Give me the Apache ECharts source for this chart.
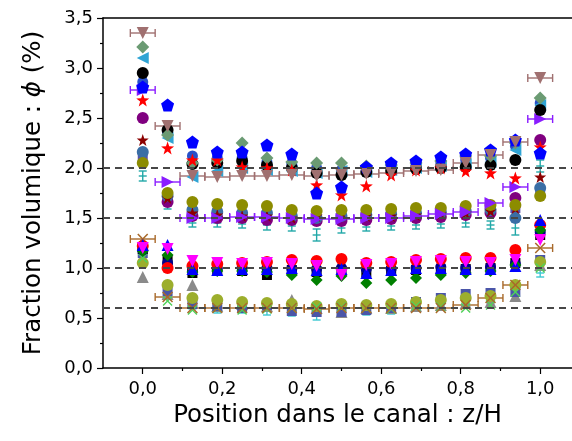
<!DOCTYPE html>
<html>
<head>
<meta charset="utf-8">
<script src="https://cdn.jsdelivr.net/npm/echarts@6/dist/echarts.min.js"></script>
<style>
  html, body { margin: 0; padding: 0; background: #fff; }
  #chart { width: 572px; height: 441px; }
</style>
</head>
<body>
<div id="chart"></div>
<script>
// positions dans le canal (z/H), pas de 1/16
var xPos = [0, 0.0625, 0.125, 0.1875, 0.25, 0.3125, 0.375, 0.4375, 0.5, 0.5625, 0.625, 0.6875, 0.75, 0.8125, 0.875, 0.9375, 1.0];
var halfStep = 0.03125;
var refLevels = [2.0, 1.5, 1.0, 0.6];
var xTicks = [0, 0.2, 0.4, 0.6, 0.8, 1.0];
var xMinorTicks = [0.1, 0.3, 0.5, 0.7, 0.9];

// groupe 2,0 %
var brownTri   = [3.35, 2.42, 1.92, 1.91, 1.92, 1.92, 1.93, 1.92, 1.93, 1.94, 1.95, 1.97, 1.98, 2.05, 2.13, 2.26, 2.90];
var bluePent   = [2.81, 2.63, 2.26, 2.16, 2.16, 2.23, 2.14, 1.75, 1.81, 2.01, 2.05, 2.07, 2.11, 2.14, 2.18, 2.28, 2.15];
var blackCirc  = [2.95, 2.38, 2.04, 2.05, 2.07, 2.03, 2.00, 1.95, 1.93, 1.96, 1.97, 1.99, 2.00, 2.01, 2.03, 2.08, 2.58];
var sageDiam   = [3.21, 2.33, 2.05, 2.08, 2.25, 2.10, 2.06, 2.05, 2.05, 2.02, 2.03, 2.05, 2.07, 2.12, 2.12, 2.25, 2.70];
var skyTri     = [3.10, 2.30, 1.91, 1.97, 2.00, 1.98, 1.97, 1.95, 1.97, 1.96, 1.98, 2.00, 2.02, 2.04, 2.06, 2.18, 2.63];
var royalCirc  = [2.86, 2.35, 2.12, 2.10, 2.10, 2.06, 2.04, 2.00, 1.98, 2.00, 2.02, 2.03, 2.05, 2.08, 2.10, 2.22, 2.65];
var redStar    = [2.68, 2.20, 2.08, 2.08, 2.01, 2.00, 1.98, 1.83, 1.73, 1.82, 1.93, 1.98, 2.00, 1.97, 1.95, 1.90, 2.21];

// groupe 1,5 %
var violetTri  = [2.78, 1.86, 1.50, 1.50, 1.51, 1.51, 1.50, 1.49, 1.49, 1.50, 1.50, 1.52, 1.54, 1.56, 1.65, 1.81, 2.49];
var oliveCirc  = [2.05, 1.75, 1.66, 1.64, 1.63, 1.62, 1.58, 1.57, 1.58, 1.58, 1.59, 1.60, 1.60, 1.62, 1.63, 1.63, 1.72];
var steelCirc  = [2.16, 1.72, 1.58, 1.56, 1.55, 1.55, 1.52, 1.50, 1.52, 1.53, 1.54, 1.55, 1.56, 1.57, 1.58, 1.50, 1.80];
var indigoSq   = [2.12, 1.70, 1.56, 1.55, 1.53, 1.52, 1.50, 1.49, 1.50, 1.51, 1.52, 1.53, 1.55, 1.56, 1.58, 1.60, 1.76];
var purpleCirc = [2.50, 1.66, 1.52, 1.50, 1.50, 1.48, 1.48, 1.47, 1.47, 1.48, 1.49, 1.50, 1.51, 1.53, 1.55, 1.70, 2.28];
var maroonStar = [2.28, 1.70, 1.55, 1.53, 1.52, 1.52, 1.50, 1.52, 1.56, 1.52, 1.52, 1.53, 1.54, 1.55, 1.57, 1.60, 1.91];
var tealVal    = [1.92, 1.63, 1.45, 1.45, 1.44, 1.43, 1.42, 1.33, 1.40, 1.41, 1.42, 1.43, 1.44, 1.45, 1.43, 1.40, 2.02];
var tealErr    = [0.05, 0.04, 0.04, 0.04, 0.04, 0.05, 0.05, 0.06, 0.05, 0.04, 0.04, 0.04, 0.04, 0.04, 0.04, 0.07, 0.06];

// groupe 1,0 %
var blueTri    = [1.23, 1.23, 0.99, 0.98, 0.99, 0.99, 1.00, 0.98, 0.99, 0.95, 0.98, 1.00, 1.00, 0.99, 0.99, 1.02, 1.48];
var pinkTri    = [1.20, 1.19, 1.07, 1.05, 1.04, 1.05, 1.04, 1.02, 0.93, 1.03, 1.04, 1.06, 1.07, 1.06, 1.05, 1.08, 1.28];
var greenDiam  = [1.17, 1.13, 0.96, 0.97, 0.97, 0.96, 0.93, 0.88, 0.92, 0.85, 0.88, 0.90, 0.93, 0.95, 0.97, 1.03, 1.38];
var redCirc    = [1.22, 1.00, 1.02, 1.04, 1.05, 1.06, 1.08, 1.07, 1.09, 1.05, 1.06, 1.08, 1.09, 1.10, 1.10, 1.18, 1.43];
var blackSq    = [1.19, 1.08, 0.95, 0.97, 0.97, 0.93, 0.98, 0.96, 0.97, 0.96, 0.97, 0.98, 0.98, 0.99, 1.00, 1.05, 1.33];
var navyCirc   = [1.18, 1.05, 0.98, 0.99, 1.00, 1.00, 0.99, 0.99, 1.00, 0.99, 0.99, 1.00, 1.01, 1.00, 1.01, 1.04, 1.36];

// groupe 0,6 %
var ochreX     = [1.29, 0.71, 0.60, 0.60, 0.60, 0.60, 0.60, 0.59, 0.60, 0.60, 0.60, 0.60, 0.60, 0.63, 0.70, 0.83, 1.20];
var limeCirc   = [1.05, 0.83, 0.70, 0.68, 0.66, 0.65, 0.64, 0.62, 0.64, 0.63, 0.64, 0.66, 0.68, 0.70, 0.72, 0.83, 1.06];
var slateSq    = [1.15, 0.77, 0.64, 0.62, 0.60, 0.63, 0.57, 0.56, 0.56, 0.58, 0.60, 0.66, 0.70, 0.74, 0.75, 0.76, 1.08];
var greyTri    = [0.91, 0.74, 0.83, 0.62, 0.64, 0.62, 0.68, 0.60, 0.56, 0.60, 0.60, 0.62, 0.63, 0.65, 0.66, 0.72, 1.03];
var mintX      = [1.10, 0.67, 0.58, 0.60, 0.58, 0.59, 0.60, 0.61, 0.61, 0.60, 0.59, 0.62, 0.61, 0.60, 0.63, 0.76, 1.00];
var cyanVal    = [1.12, 0.72, 0.62, 0.58, 0.58, 0.57, 0.56, 0.53, 0.55, 0.56, 0.57, 0.60, 0.62, 0.65, 0.68, 0.78, 0.95];
var cyanErr    = [0.03, 0.03, 0.03, 0.03, 0.03, 0.04, 0.04, 0.05, 0.04, 0.03, 0.03, 0.03, 0.03, 0.03, 0.03, 0.04, 0.04];

var STAR = 'path://M0,-10L2.35,-3.24L9.51,-3.09L3.8,1.23L5.88,8.09L0,4L-5.88,8.09L-3.8,1.23L-9.51,-3.09L-2.35,-3.24Z';
var PENT = 'path://M0,-10L9.51,-3.09L5.88,8.09L-5.88,8.09L-9.51,-3.09Z';
var XMARK = 'path://M-10,-8L-8,-10L0,-2L8,-10L10,-8L2,0L10,8L8,10L0,2L-8,10L-10,8L-2,0Z';

function pts(vals, symbol, color, size, rotate) {
  return {
    type: 'scatter',
    data: xPos.map(function (x, i) { return [x, vals[i]]; }),
    symbol: symbol,
    symbolSize: size || 11,
    symbolRotate: rotate || 0,
    itemStyle: { color: color, opacity: 1 },
    silent: true
  };
}

function hBars(vals, color) {
  return {
    type: 'custom',
    data: xPos.map(function (x, i) { return [x, vals[i]]; }),
    encode: { x: 0, y: 1 },
    silent: true,
    renderItem: function (params, api) {
      var x = api.value(0), y = api.value(1);
      var a = api.coord([x - halfStep, y]);
      var b = api.coord([x + halfStep, y]);
      var st = { stroke: color, lineWidth: 1.4 };
      return {
        type: 'group',
        children: [
          { type: 'line', shape: { x1: a[0], y1: a[1], x2: b[0], y2: b[1] }, style: st },
          { type: 'line', shape: { x1: a[0], y1: a[1] - 4, x2: a[0], y2: a[1] + 4 }, style: st },
          { type: 'line', shape: { x1: b[0], y1: b[1] - 4, x2: b[0], y2: b[1] + 4 }, style: st }
        ]
      };
    }
  };
}

function vBars(vals, errs, color) {
  return {
    type: 'custom',
    data: xPos.map(function (x, i) { return [x, vals[i], errs[i]]; }),
    encode: { x: 0, y: 1 },
    silent: true,
    renderItem: function (params, api) {
      var x = api.value(0), y = api.value(1), e = api.value(2);
      var a = api.coord([x, y - e]);
      var b = api.coord([x, y + e]);
      var st = { stroke: color, lineWidth: 1.4 };
      return {
        type: 'group',
        children: [
          { type: 'line', shape: { x1: a[0], y1: a[1], x2: b[0], y2: b[1] }, style: st },
          { type: 'line', shape: { x1: a[0] - 4, y1: a[1], x2: a[0] + 4, y2: a[1] }, style: st },
          { type: 'line', shape: { x1: b[0] - 4, y1: b[1], x2: b[0] + 4, y2: b[1] }, style: st },
          { type: 'line', shape: { x1: a[0] - 4, y1: (a[1] + b[1]) / 2, x2: a[0] + 4, y2: (a[1] + b[1]) / 2 }, style: st }
        ]
      };
    }
  };
}

function fmt(v) { return v.toFixed(1).replace('.', ','); }

var axisCol = '#000';
var font = 'DejaVu Sans';

var series = [
  // 0,6
  vBars(cyanVal, cyanErr, '#3cc8d2'),
  pts(greyTri, 'triangle', '#8a8a8a', 12),
  pts(slateSq, 'rect', '#4a55a8', 10),
  pts(limeCirc, 'circle', '#9cae2c', 12),
  pts(mintX, XMARK, '#4fd25a', 10),
  hBars(ochreX, '#a8692a'),
  pts(ochreX, XMARK, '#a8692a', 11),
  // 1,0
  pts(blackSq, 'rect', '#000000', 10),
  pts(navyCirc, 'circle', '#00008b', 11),
  pts(redCirc, 'circle', '#ff0000', 12),
  pts(greenDiam, 'diamond', '#008000', 12),
  pts(blueTri, 'triangle', '#0000ff', 12),
  pts(pinkTri, 'triangle', '#ff00ff', 12, 180),
  // 1,5
  vBars(tealVal, tealErr, '#22a8a8'),
  pts(indigoSq, 'rect', '#5a4fb0', 10),
  pts(purpleCirc, 'circle', '#800080', 12),
  pts(steelCirc, 'circle', '#3a6ea5', 12),
  pts(maroonStar, STAR, '#8b0000', 12),
  pts(oliveCirc, 'circle', '#8c8c00', 12),
  hBars(violetTri, '#8a1cff'),
  pts(violetTri, 'triangle', '#8a1cff', 12, -90),
  // 2,0
  pts(royalCirc, 'circle', '#2850c8', 11),
  pts(skyTri, 'triangle', '#2fa4d4', 12, 90),
  pts(blackCirc, 'circle', '#000000', 12),
  pts(sageDiam, 'diamond', '#6b9b73', 13),
  pts(redStar, STAR, '#ff0000', 13),
  pts(bluePent, PENT, '#0000ff', 13),
  hBars(brownTri, '#a07070'),
  pts(brownTri, 'triangle', '#a07070', 12, 180)
];

// lignes de référence en pointillés
series.push({
  type: 'line',
  data: [],
  silent: true,
  markLine: {
    symbol: ['none', 'none'],
    label: { show: false },
    lineStyle: { type: [7, 5], color: '#474747', width: 1.8 },
    data: refLevels.map(function (v) { return { yAxis: v }; })
  }
});

var myChart = echarts.init(document.getElementById('chart'));
var option = {
  animation: false,
  backgroundColor: '#fff',
  grid: { left: 103, right: 0, top: 18, bottom: 73 },
  xAxis: [
    {
      type: 'value', min: -0.1, max: 1.08, position: 'bottom',
      axisLine: { show: true, onZero: false, lineStyle: { color: axisCol, width: 1.5 } },
      axisTick: { show: true, customValues: xTicks, length: 6, lineStyle: { color: axisCol, width: 1.2 } },
      axisLabel: { customValues: xTicks, formatter: fmt, fontSize: 18, fontFamily: font, color: axisCol, margin: 12 },
      splitLine: { show: false },
      name: 'Position dans le canal : z/H',
      nameLocation: 'middle', nameGap: 35,
      nameTextStyle: { fontSize: 24.5, fontFamily: font, color: axisCol }
    },
    {
      type: 'value', min: -0.1, max: 1.08, position: 'bottom',
      axisLine: { show: false },
      axisTick: { show: true, customValues: xMinorTicks, length: 3, lineStyle: { color: axisCol, width: 1.2 } },
      axisLabel: { show: false },
      splitLine: { show: false }
    },
    {
      type: 'value', min: -0.1, max: 1.08, position: 'top',
      axisLine: { show: true, onZero: false, lineStyle: { color: axisCol, width: 1.5 } },
      axisTick: { show: false }, axisLabel: { show: false }, splitLine: { show: false }
    }
  ],
  yAxis: {
    type: 'value', min: 0, max: 3.5, interval: 0.5,
    axisLine: { show: true, onZero: false, lineStyle: { color: axisCol, width: 1.5 } },
    axisTick: { show: true, length: 6, lineStyle: { color: axisCol, width: 1.2 } },
    minorTick: { show: true, splitNumber: 2, length: 3, lineStyle: { color: axisCol, width: 1.2 } },
    axisLabel: { formatter: fmt, fontSize: 18, fontFamily: font, color: axisCol, margin: 10 },
    splitLine: { show: false },
    name: 'Fraction volumique : {i|ϕ} (%)',
    nameLocation: 'middle', nameGap: 57,
    nameTextStyle: {
      fontSize: 24.5, fontFamily: font, color: axisCol,
      rich: { i: { fontSize: 24.5, fontFamily: font, fontStyle: 'italic', color: axisCol } }
    }
  },
  series: series
};
myChart.setOption(option);
</script>
</body>
</html>
